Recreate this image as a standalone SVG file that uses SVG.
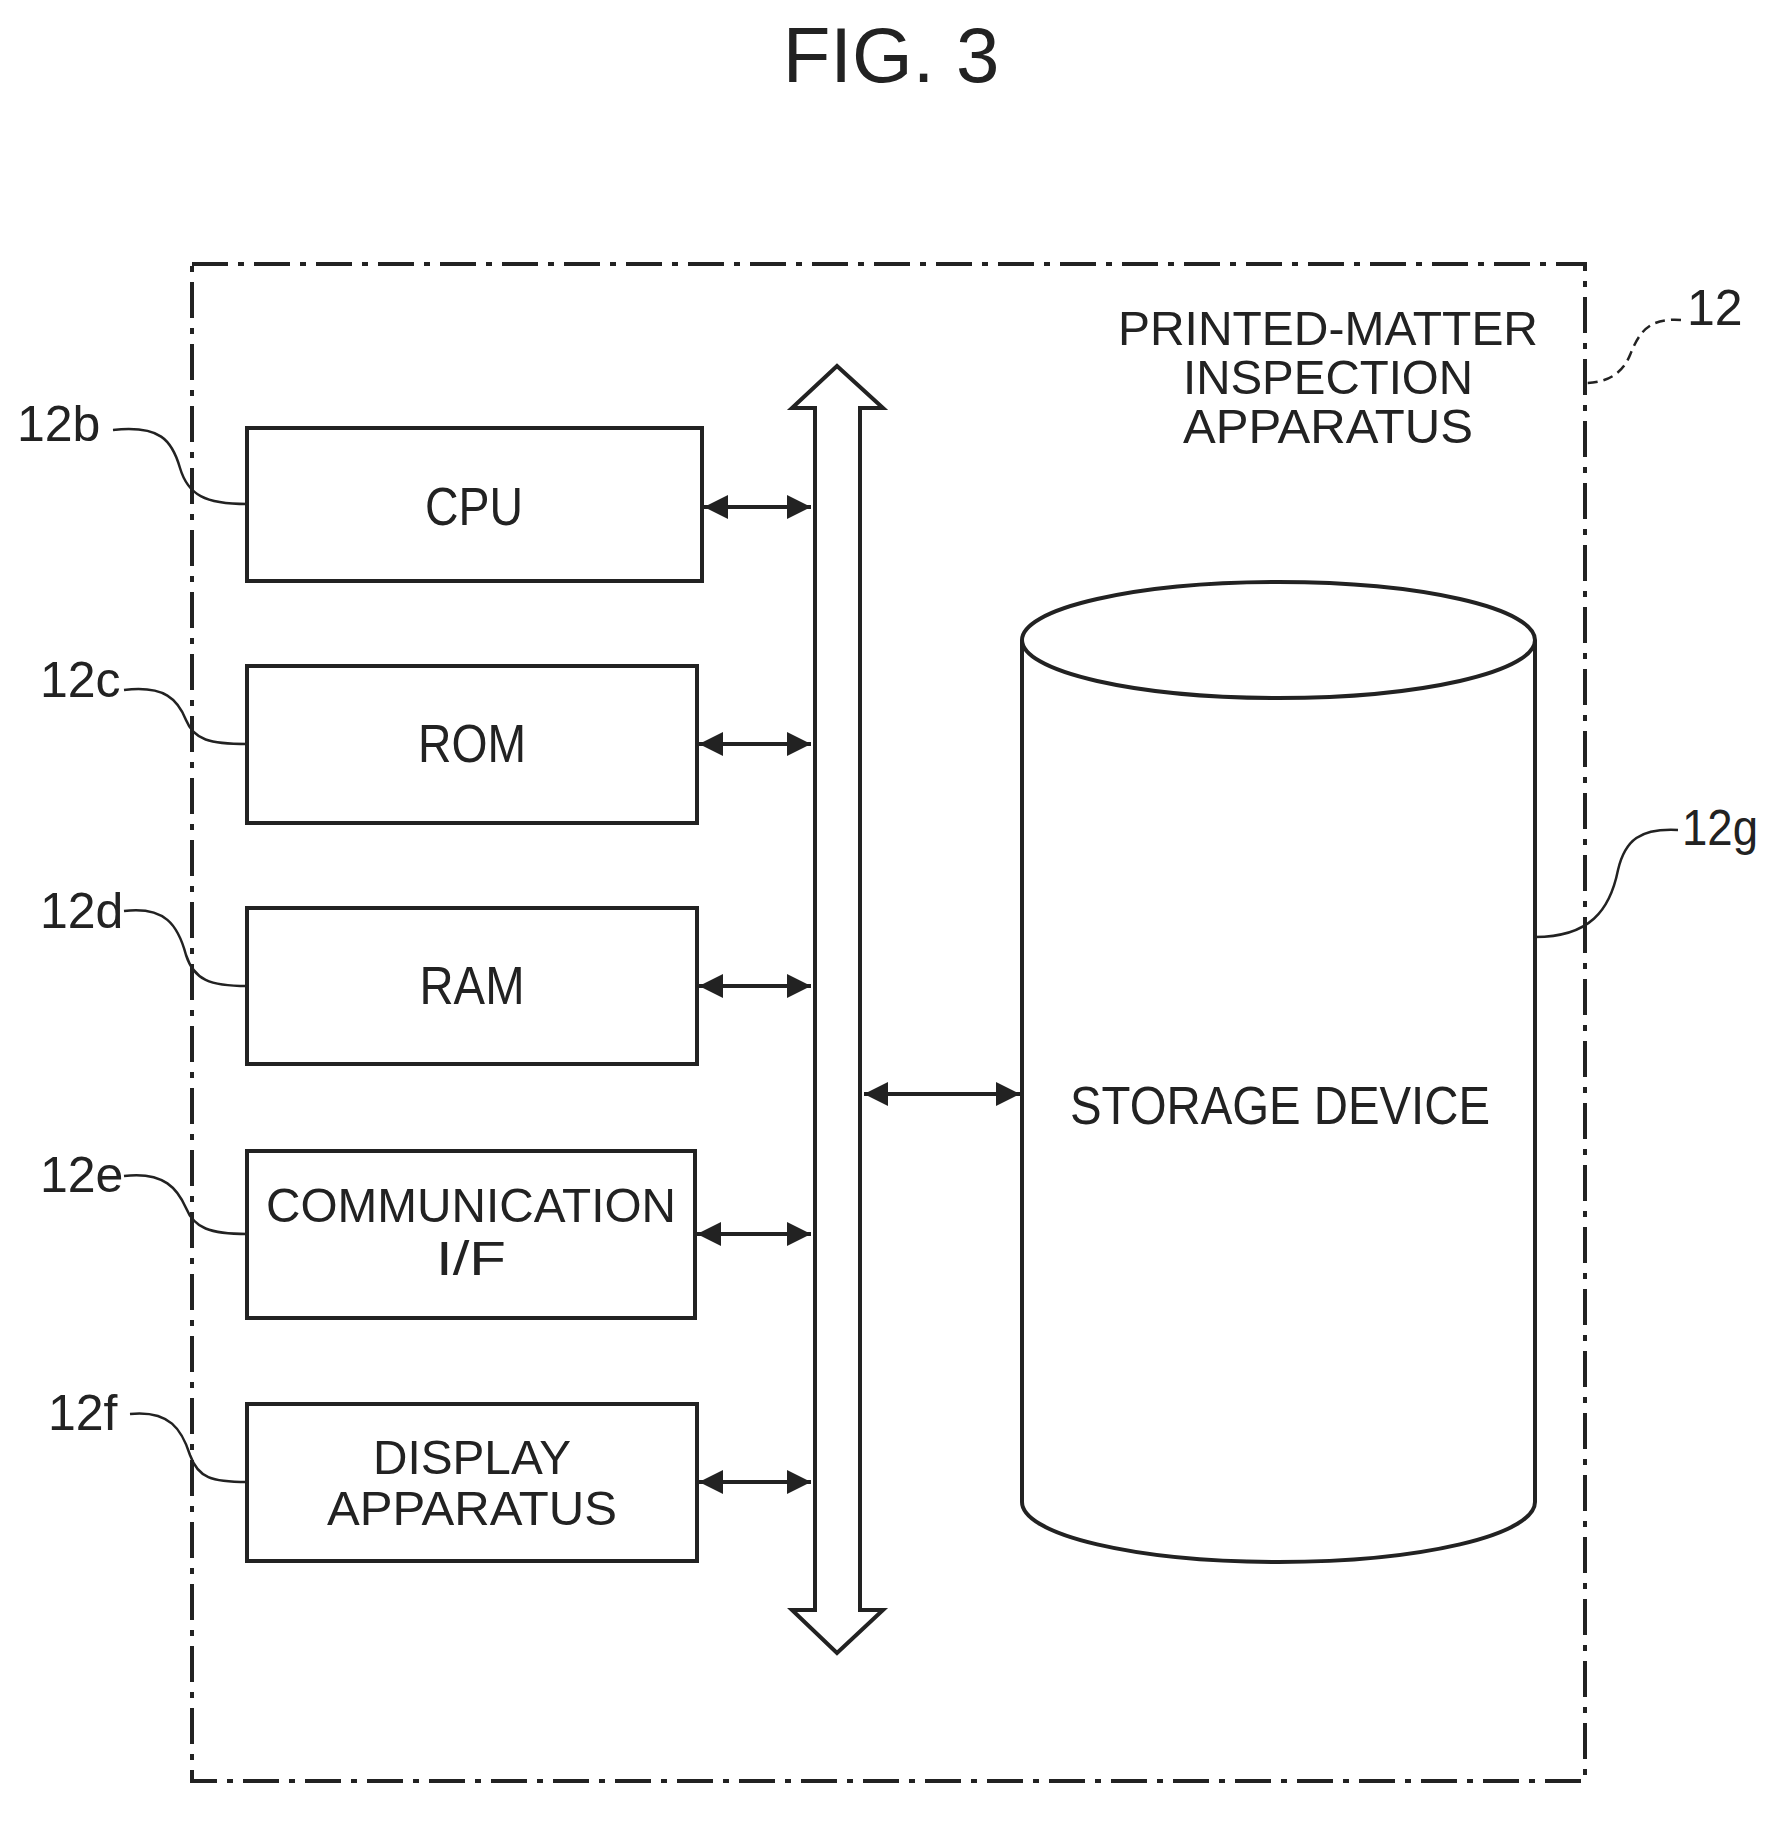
<svg xmlns="http://www.w3.org/2000/svg" width="1766" height="1829" viewBox="0 0 1766 1829">
<style>
text{font-family:"Liberation Sans",Arial,sans-serif;fill:#222}
.t{font-size:54px;text-anchor:middle}
.s{font-size:49px;text-anchor:middle}
.r{font-size:50px}
.box{fill:#fff;stroke:#222;stroke-width:4}
.ld{fill:none;stroke:#222;stroke-width:2.5}
.c{stroke:#222;stroke-width:4;fill:none;marker-start:url(#a);marker-end:url(#a)}
</style>
<defs>
<marker id="a" viewBox="0 0 10 10" refX="10" refY="5" markerWidth="7" markerHeight="6" orient="auto-start-reverse" markerUnits="strokeWidth"><path d="M0,0L10,5L0,10z" fill="#222"/></marker>
</defs>
<rect width="1766" height="1829" fill="#fff"/>
<text x="891" y="82" font-size="78" text-anchor="middle">FIG. 3</text>
<g id="frame">
<rect x="192" y="264" width="1393" height="1517" fill="none" stroke="#222" stroke-width="4" stroke-dasharray="36,10,6,10"/>
<text x="1328" y="345" class="s" textLength="420" lengthAdjust="spacingAndGlyphs">PRINTED-MATTER</text>
<text x="1328" y="394" class="s" textLength="290" lengthAdjust="spacingAndGlyphs">INSPECTION</text>
<text x="1328" y="443" class="s" textLength="290" lengthAdjust="spacingAndGlyphs">APPARATUS</text>
<text x="1687" y="325" class="r">12</text>
<path class="ld" d="M1681,320 C1650,318 1640,330 1630,355 C1622,375 1605,383 1585,383" stroke-dasharray="10,6"/>
</g>
<g id="cpu"><rect class="box" x="247" y="428" width="455" height="153"/><text class="t" x="474" y="525" textLength="98" lengthAdjust="spacingAndGlyphs">CPU</text>
<text class="r" x="17" y="441">12b</text><path class="ld" d="M113,430 C160,425 172,440 180,468 C188,495 205,504 247,504"/></g>
<g id="rom"><rect class="box" x="247" y="666" width="450" height="157"/><text class="t" x="472" y="762" textLength="108" lengthAdjust="spacingAndGlyphs">ROM</text>
<text class="r" x="40" y="697">12c</text><path class="ld" d="M124,690 C165,685 178,700 186,720 C194,740 210,744 247,744"/></g>
<g id="ram"><rect class="box" x="247" y="908" width="450" height="156"/><text class="t" x="472" y="1004" textLength="105" lengthAdjust="spacingAndGlyphs">RAM</text>
<text class="r" x="40" y="928">12d</text><path class="ld" d="M124,911 C165,906 178,925 186,955 C194,980 210,986 247,986"/></g>
<g id="comm"><rect class="box" x="247" y="1151" width="448" height="167"/><text class="s" x="471" y="1222" textLength="410" lengthAdjust="spacingAndGlyphs">COMMUNICATION</text><text class="s" x="471" y="1275" textLength="70" lengthAdjust="spacingAndGlyphs">I/F</text>
<text class="r" x="40" y="1192">12e</text><path class="ld" d="M124,1176 C165,1171 178,1190 186,1208 C194,1228 210,1234 247,1234"/></g>
<g id="display"><rect class="box" x="247" y="1404" width="450" height="157"/><text class="s" x="472" y="1474" textLength="198" lengthAdjust="spacingAndGlyphs">DISPLAY</text><text class="s" x="472" y="1525" textLength="290" lengthAdjust="spacingAndGlyphs">APPARATUS</text>
<text class="r" x="48" y="1430">12f</text><path class="ld" d="M130,1414 C170,1410 182,1430 190,1455 C198,1478 212,1482 247,1482"/></g>
<g id="bus"><path d="M837,366 L883,408 L860,408 L860,1610 L883,1610 L837,1653 L792,1610 L815,1610 L815,408 L792,408 Z" fill="#fff" stroke="#222" stroke-width="4" stroke-linejoin="miter"/></g>
<g id="storage">
<path d="M1022,640 L1022,1502 A256.5,60 0 0 0 1535,1502 L1535,640" fill="#fff" stroke="#222" stroke-width="4"/>
<ellipse cx="1278.5" cy="640" rx="256.5" ry="58" fill="#fff" stroke="#222" stroke-width="4"/>
<text class="t" x="1280" y="1124" textLength="420" lengthAdjust="spacingAndGlyphs">STORAGE DEVICE</text>
<text class="r" x="1682" y="845" textLength="76" lengthAdjust="spacingAndGlyphs">12g</text><path class="ld" d="M1678,830 C1640,828 1625,840 1618,870 C1610,910 1590,937 1535,937"/>
</g>
<g id="connectors">
<line class="c" x1="704" y1="507" x2="811" y2="507"/>
<line class="c" x1="699" y1="744" x2="811" y2="744"/>
<line class="c" x1="699" y1="986" x2="811" y2="986"/>
<line class="c" x1="697" y1="1234" x2="811" y2="1234"/>
<line class="c" x1="699" y1="1482" x2="811" y2="1482"/>
<line class="c" x1="864" y1="1094" x2="1020" y2="1094"/>
</g>
</svg>
